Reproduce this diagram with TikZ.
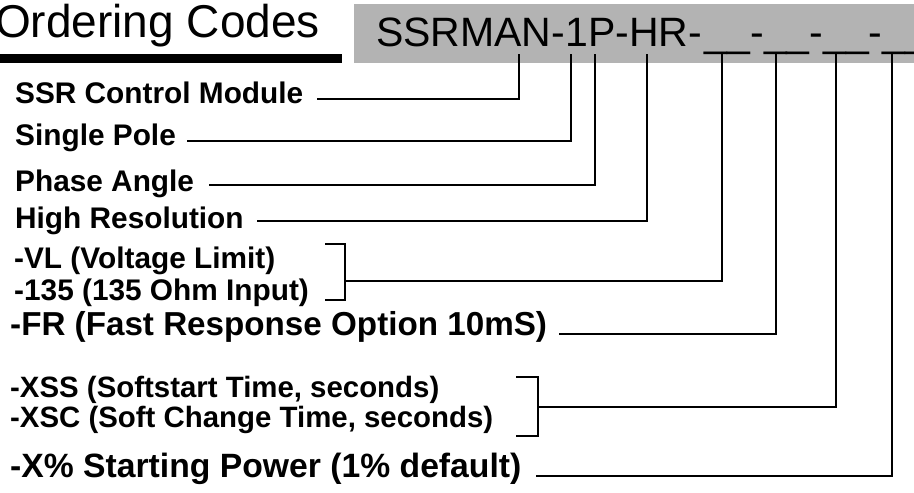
\documentclass[tikz,border=0pt]{standalone}
\usepackage{fontspec}
\setmainfont{Liberation Sans}
\begin{document}
\begin{tikzpicture}[x=1pt,y=-1pt,
  lblA/.style={inner sep=0pt,anchor=base west,font=\fontsize{29.8}{31}\selectfont\bfseries},
  lblC/.style={inner sep=0pt,anchor=base west,font=\fontsize{29.4}{31}\selectfont\bfseries},
  lblB/.style={inner sep=0pt,anchor=base west,font=\fontsize{33.2}{35}\selectfont\bfseries},
  lblD/.style={inner sep=0pt,anchor=base west,font=\fontsize{33.7}{35}\selectfont\bfseries},
  conn/.style={line width=1.3pt,line cap=rect}]
\useasboundingbox (0,0) rectangle (914,493);
\fill[fill=white] (0,0) rectangle (914,493);
% header
\fill[black] (0,54) rectangle (342,63);
\fill[fill={rgb,255:red,179;green,179;blue,179}] (354,4) rectangle (914,63);
\node[inner sep=0pt,anchor=base west,font=\fontsize{46}{48}\selectfont] (title) at (-5,37) {Ordering Codes};
\node[inner sep=0pt,anchor=base west,font=\fontsize{41}{42}\selectfont] (code) at (376,46) {SSRMAN-1P-HR-\kern3pt\_\_-\_\_-\_\_-\_\_};
% tops of connectors
\coordinate (t1) at (519,55);
\coordinate (t2) at (571,55);
\coordinate (t3) at (595,55);
\coordinate (t4) at (647,55);
\coordinate (t5) at (722,55);
\coordinate (t6) at (776,55);
\coordinate (t7) at (836,55);
\coordinate (t8) at (892,55);
% labels
\node[lblA] (l1) at (15,103) {SSR Control Module};
\node[lblA] (l2) at (15,145) {Single Pole};
\node[lblA] (l3) at (15,191) {Phase Angle};
\node[lblA] (l4) at (15,228) {High Resolution};
\node[lblA] (l5a) at (14,268) {-VL (Voltage Limit)};
\node[lblA] (l5b) at (14,300) {-135 (135 Ohm Input)};
\node[lblB] (l6) at (10,335) {-FR (Fast Response Option 10mS)};
\node[lblC] (l7a) at (10,397) {-XSS (Softstart Time, seconds)};
\node[lblC] (l7b) at (10,427) {-XSC (Soft Change Time, seconds)};
\node[lblD] (l8) at (10,477) {-X\% Starting Power (1\% default)};
% start points of connectors
\coordinate (s1) at (318,99);
\coordinate (s2) at (188,141);
\coordinate (s3) at (210,185);
\coordinate (s4) at (258,221);
\coordinate (s5) at (345,281);
\coordinate (s6) at (560,334);
\coordinate (s7) at (538,407);
\coordinate (s8) at (537,476);
% brackets
\coordinate (b5t) at (325,244);
\coordinate (b5b) at (325,300);
\coordinate (b7t) at (516,377);
\coordinate (b7b) at (516,436);
\draw[conn,line cap=butt] (b5t) -- (b5t -| s5) -- (b5b -| s5) -- (b5b);
\draw[conn,line cap=butt] (b7t) -- (b7t -| s7) -- (b7b -| s7) -- (b7b);
% connectors
\draw[conn] (s1) -| (t1);
\draw[conn] (s2) -| (t2);
\draw[conn] (s3) -| (t3);
\draw[conn] (s4) -| (t4);
\draw[conn] (s5) -| (t5);
\draw[conn] (s6) -| (t6);
\draw[conn] (s7) -| (t7);
\draw[conn] (s8) -| (t8);
\end{tikzpicture}
\end{document}
